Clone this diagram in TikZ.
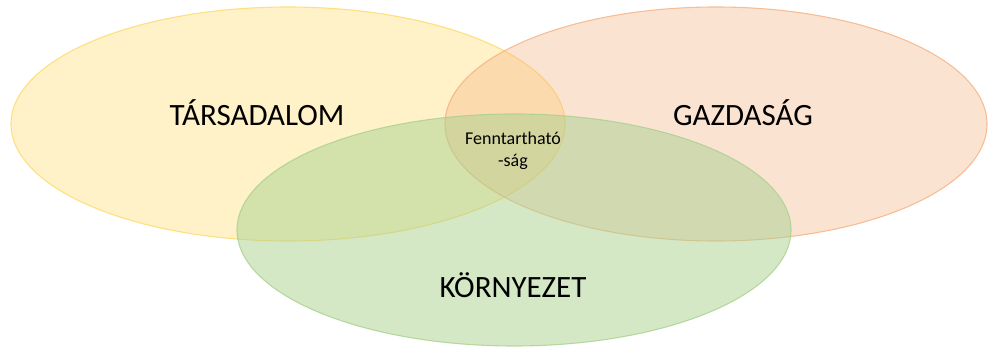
\documentclass[tikz,border=0pt]{standalone}
\usepackage{fontspec}
\setmainfont{Carlito}
\usepackage{xcolor}
\usetikzlibrary{positioning}

\definecolor{tarsYellow}{HTML}{FFD966}
\definecolor{gazdOrange}{HTML}{F4B183}
\definecolor{kornGreen}{HTML}{A9D18E}

\tikzset{
  korfill/.style={fill=#1, fill opacity=0.36, draw=#1, draw opacity=0.8, line width=1.1pt},
  nagy/.style={font=\fontsize{31}{37}\selectfont},
  kicsi/.style={font=\fontsize{18}{22}\selectfont, align=center}
}

\begin{document}
\begin{tikzpicture}[x=1pt,y=1pt]
\useasboundingbox (0,0) rectangle (988,347);

% Tarsadalom (yellow)
\filldraw[korfill=tarsYellow] (288,223) ellipse (277 and 117);
% Gazdasag (orange)
\filldraw[korfill=gazdOrange] (716,223) ellipse (271 and 117);
% Kornyezet (green)
\filldraw[korfill=kornGreen, fill opacity=0.5] (514,117) ellipse (277 and 116);

% Labels
\node[nagy] (tars) at (257,234) {TÁRSADALOM};
\node[nagy] (gazd) at (743,234) {GAZDASÁG};
\node[nagy] (korn) at (513,62) {KÖRNYEZET};

% Center
\node[kicsi] (fennt) at (513,196) {Fenntartható\\-ság};

\end{tikzpicture}
\end{document}
